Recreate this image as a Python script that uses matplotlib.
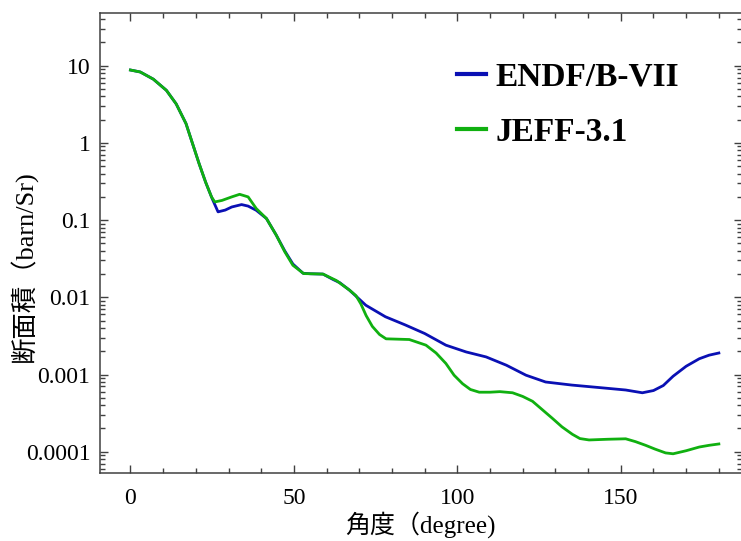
import matplotlib
matplotlib.use("Agg")
import matplotlib.pyplot as plt
from matplotlib.ticker import MultipleLocator, LogLocator, NullFormatter

plt.rcParams['font.family'] = ['Liberation Serif', 'Noto Sans CJK JP']

# ENDF/B-VII angular distribution
angle_endf = [0, 3, 7, 11, 14, 17, 19, 21, 23, 25, 26.8, 29, 31, 34, 36, 38.5,
              41.6, 44.6, 47.2, 49.7, 52.8, 55, 58.9, 62, 64, 67, 72, 78, 84,
              90, 96.5, 102.7, 108.8, 115, 121, 127, 135, 143, 151.5, 156.6,
              160, 163, 166, 170, 174, 177, 180]
xs_endf = [8.8, 8.3, 6.7, 4.8, 3.2, 1.78, 0.98, 0.54, 0.31, 0.19, 0.128, 0.135,
           0.148, 0.159, 0.152, 0.134, 0.105, 0.064, 0.040, 0.027, 0.0205,
           0.0202, 0.020, 0.017, 0.0155, 0.0124, 0.0079, 0.0056, 0.0044,
           0.0034, 0.0024, 0.00196, 0.00169, 0.00132, 0.00098, 0.0008, 0.00073,
           0.00068, 0.00063, 0.00058, 0.00062, 0.00072, 0.00095, 0.00128,
           0.0016, 0.00178, 0.0019]

# JEFF-3.1 angular distribution
angle_jeff = [0, 3, 7, 11, 14, 17, 19, 21, 23, 24.8, 25.8, 28, 31, 33.4, 36,
              38.5, 41.6, 44.6, 47.2, 49.7, 53, 58.9, 63, 67, 69, 70.5, 72.1,
              74, 76.2, 78.2, 85.3, 90.4, 93.5, 96.5, 99, 101.6, 104,
              106.7, 110, 113, 116.9, 120, 123, 126, 129.1, 132, 135.2, 137.5,
              140.3, 146, 151.5, 154.5, 157.6, 160.5, 163.7, 166, 170, 174,
              177, 180]
xs_jeff = [8.8, 8.3, 6.7, 4.8, 3.2, 1.78, 0.98, 0.54, 0.31, 0.2, 0.172, 0.18,
           0.2, 0.216, 0.2, 0.141, 0.105, 0.064, 0.039, 0.026, 0.0203, 0.020,
           0.0165, 0.0124, 0.0105, 0.0082, 0.0058, 0.0042, 0.0033, 0.00290,
           0.00284, 0.0024, 0.0019, 0.00139, 0.00098, 0.00076, 0.00064,
           0.00059, 0.00059, 0.0006, 0.00058, 0.00052, 0.00045, 0.00035,
           0.00027, 0.00021, 0.000168, 0.000148, 0.000142, 0.000145, 0.000147,
           0.000135, 0.000121, 0.000108, 0.0000965, 0.000094, 0.000103,
           0.000115, 0.000121, 0.000126]

ytick_vals = [10, 1, 0.1, 0.01, 0.001, 0.0001]
ytick_labels = ['10', '1', '0.1', '0.01', '0.001', '0.0001']

fig = plt.figure(figsize=(7.41, 5.41), dpi=100)
ax = fig.add_axes([0.135, 0.1257, 0.866, 0.85])

ax.plot(angle_endf, xs_endf, color='#0a10b4', lw=2.0, label='ENDF/B-VII')
ax.plot(angle_jeff, xs_jeff, color='#10b010', lw=2.0, label='JEFF-3.1')

ax.set_yscale('log')
ax.set_xlim(-9.3, 187)
ax.set_ylim(5.3e-5, 48)

ax.set_xticks([0, 50, 100, 150])
ax.xaxis.set_minor_locator(MultipleLocator(10))
ax.set_yticks(ytick_vals)
ax.set_yticklabels(ytick_labels)
ax.yaxis.set_minor_locator(LogLocator(base=10, subs=range(2, 10), numticks=20))
ax.yaxis.set_minor_formatter(NullFormatter())

ax.tick_params(which='both', direction='in', top=True, right=True,
               colors='#404040', labelcolor='black', labelsize=17)
ax.tick_params(which='major', length=5.5, width=1.0)
ax.tick_params(which='minor', length=3.5, width=1.0)
ax.tick_params(axis='x', which='major', pad=11)
ax.tick_params(axis='y', which='major', pad=7)
for sp in ax.spines.values():
    sp.set_color('#404040')
    sp.set_linewidth(1.1)

ax.set_xlabel('角度（degree)', fontsize=18, va='top')
ax.xaxis.set_label_coords(0.5, -0.082)
ax.set_ylabel('断面積（barn/Sr)', fontsize=19)
ax.yaxis.set_label_coords(-0.097, 0.45)

leg = ax.legend(loc='upper left', bbox_to_anchor=(0.557, 0.894), frameon=False,
                prop={'weight': 'bold', 'size': 24, 'family': 'Liberation Serif'},
                handlelength=0.85, handletextpad=0.3, labelspacing=0.72,
                borderpad=0, borderaxespad=0)
for line in leg.get_lines():
    line.set_linewidth(3)

fig.savefig('out.png', dpi=100)
